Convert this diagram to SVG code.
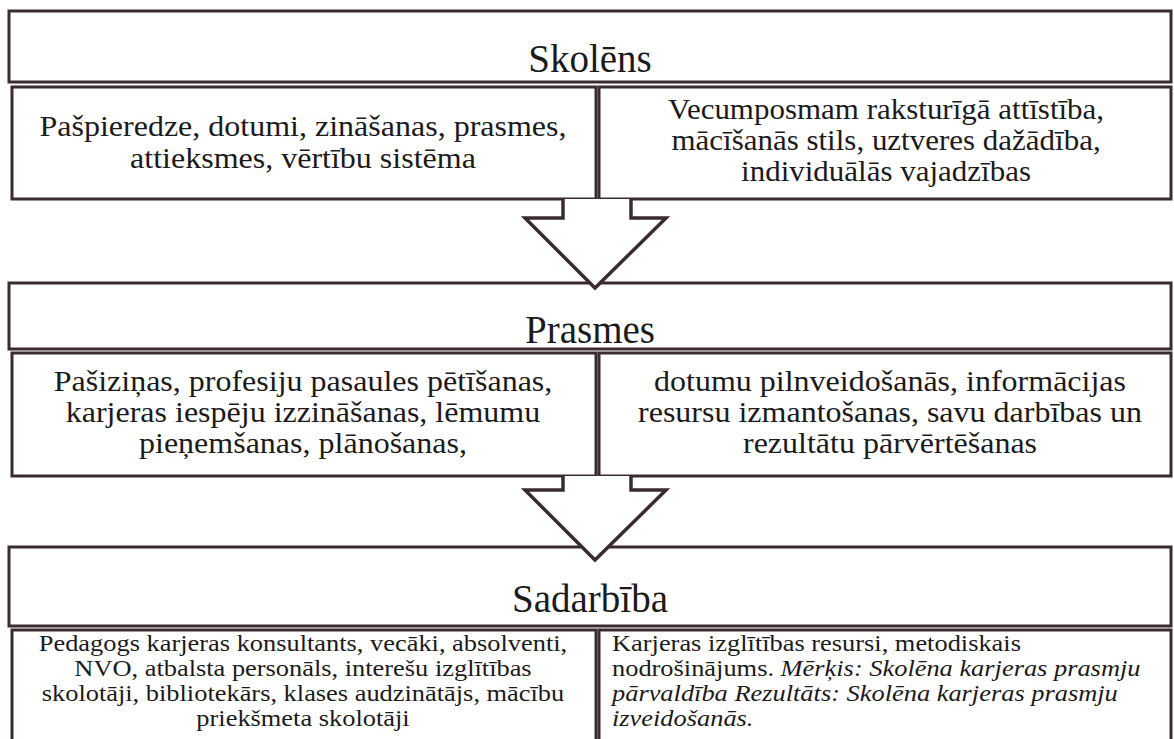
<svg xmlns="http://www.w3.org/2000/svg" width="1174" height="739" viewBox="0 0 1174 739">
<style>
.b{fill:none;stroke:#3a2b30;stroke-width:3}
.t{font-family:"Liberation Serif","Tinos","DejaVu Serif","Times New Roman",serif;fill:#1c1a1b}
.h{font-size:39px}
.m{font-size:30px}
.s{font-size:24px}
.i{font-style:italic}
.ar{fill:#fff;stroke:#3a2b30;stroke-width:3.5;stroke-linejoin:miter}
</style>
<rect width="1174" height="739" fill="#fff"/>
<g id="skolens">
<rect class="b" x="9" y="11" width="1162" height="71"/>
<text class="t h" x="590" y="72" text-anchor="middle">Skolēns</text>
</g>
<g id="skolens-left">
<rect class="b" x="12" y="87" width="584" height="112"/>
<text class="t m" text-anchor="middle" transform="matrix(1.067,0,0,1,-20.3,0)"><tspan x="303" y="136">Pašpieredze, dotumi, zināšanas, prasmes,</tspan><tspan x="303" y="168">attieksmes, vērtību sistēma</tspan></text>
</g>
<g id="skolens-right">
<rect class="b" x="599" y="87" width="572" height="112"/>
<text class="t m" text-anchor="middle" transform="matrix(1.033,0,0,1,-29.2,0)"><tspan x="886" y="119">Vecumposmam raksturīgā attīstība,</tspan><tspan x="886" y="150">mācīšanās stils, uztveres dažādība,</tspan><tspan x="886" y="181">individuālās vajadzības</tspan></text>
</g>
<g id="prasmes">
<rect class="b" x="9" y="283" width="1162" height="66"/>
<text class="t h" x="590" y="343" text-anchor="middle">Prasmes</text>
</g>
<g id="prasmes-left">
<rect class="b" x="12" y="353" width="584" height="123"/>
<text class="t m" text-anchor="middle" transform="matrix(1.067,0,0,1,-20.3,0)"><tspan x="303" y="391">Pašiziņas, profesiju pasaules pētīšanas,</tspan><tspan x="303" y="422">karjeras iespēju izzināšanas, lēmumu</tspan><tspan x="303" y="453">pieņemšanas, plānošanas,</tspan></text>
</g>
<g id="prasmes-right">
<rect class="b" x="599" y="353" width="572" height="123"/>
<text class="t m" text-anchor="middle" transform="matrix(1.067,0,0,1,-59.6,0)"><tspan x="890" y="391">dotumu pilnveidošanās, informācijas</tspan><tspan x="890" y="422">resursu izmantošanas, savu darbības un</tspan><tspan x="890" y="453">rezultātu pārvērtēšanas</tspan></text>
</g>
<g id="sadarbiba">
<rect class="b" x="9" y="547" width="1162" height="79"/>
<text class="t h" x="590" y="612" text-anchor="middle">Sadarbība</text>
</g>
<g id="sadarbiba-left">
<path class="b" d="M12,745 V630 H596 V745"/>
<text class="t s" text-anchor="middle" transform="matrix(1.1,0,0,1,-30.3,0)"><tspan x="303" y="651">Pedagogs karjeras konsultants, vecāki, absolventi,</tspan><tspan x="303" y="676">NVO, atbalsta personāls, interešu izglītības</tspan><tspan x="303" y="701">skolotāji, bibliotekārs, klases audzinātājs, mācību</tspan><tspan x="303" y="726">priekšmeta skolotāji</tspan></text>
</g>
<g id="sadarbiba-right">
<path class="b" d="M599,745 V630 H1171 V745"/>
<text class="t s" transform="matrix(1.1,0,0,1,-61.2,0)"><tspan x="612" y="651">Karjeras izglītības resursi, metodiskais</tspan><tspan x="612" y="676">nodrošinājums.  <tspan class="i">Mērķis: Skolēna karjeras prasmju</tspan></tspan><tspan class="i" x="612" y="701">pārvaldība Rezultāts: Skolēna karjeras prasmju</tspan><tspan class="i" x="612" y="726">izveidošanās.</tspan></text>
</g>
<g id="connectors">
<path class="ar" d="M563,199 V218 H525 L595,288 L666,218 H631 V199"/>
<path class="ar" d="M563,476 V490 H525 L595,560 L666,490 H631 V476"/>
</g>
</svg>
